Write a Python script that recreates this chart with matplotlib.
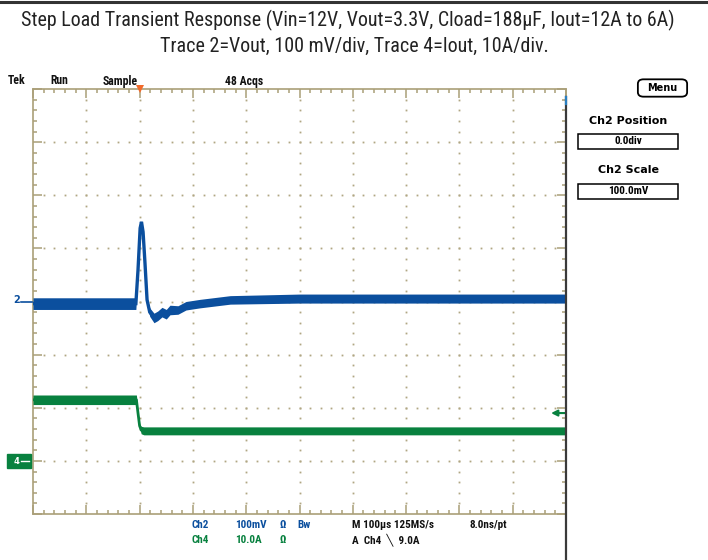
import numpy as np
import matplotlib.pyplot as plt
from matplotlib.patches import Rectangle, FancyBboxPatch
from matplotlib.lines import Line2D

W, H = 708, 560

# Ch2: Vout deviation (mV) vs time (us)
t_vout = [-200, -7, -3, 1, 3.5, 6.5, 10, 14, 19, 27, 34, 42, 50, 57, 72, 87, 113, 170, 300, 800]
vout_mv = [-4, -4, 59, 138, 150, 131, 74, 3, -20, -31, -27, -20, -24, -16, -16, -8, -4, 3, 5.5, 5.5]
vout_noise = [11, 11, 3, 2, 2, 2, 3, 5, 8, 9, 9, 9, 9, 9, 8, 8, 8, 8, 8.5, 8.5]

# Ch4: Iout (A) vs time (us)
t_iout = [-200, -6, -3, 0, 3, 8, 800]
iout_a = [11.5, 11.5, 9.0, 6.6, 5.8, 5.65, 5.65]
iout_noise = [0.9, 0.9, 0.4, 0.4, 0.7, 0.75, 0.75]

mv_per_div = 100
a_per_div = 10
ch4_pos = -3  # divisions
trig_level = 9.0

title1 = "Step Load Transient Response (Vin=12V, Vout=3.3V, Cload=188\u00b5F, Iout=12A to 6A)"
title2 = "Trace 2=Vout, 100 mV/div, Trace 4=Iout, 10A/div."

tan = "#aa9f78"
dot = "#b0a683"
blue = "#0b4f9e"
green = "#08813f"
narrow = ["Roboto Condensed", "Liberation Sans Narrow", "Roboto", "DejaVu Sans"]

fig = plt.figure(figsize=(W / 100, H / 100), dpi=100)
renderer = fig.canvas.get_renderer()


def fx(x):
    return x / W


def fy(y):
    return 1 - y / H


def ftext(x, y, s, width=None, **kw):
    kw.setdefault("va", "center")
    t = fig.text(fx(x), fy(y), s, **kw)
    if width:
        # scale the font so the line spans the same width as on the screen
        w = t.get_window_extent(renderer).width
        t.set_fontsize(t.get_fontsize() * width / w)
    return t


# top bar
fig.add_artist(Line2D([0, 1], [fy(2), fy(2)], color="#333333", lw=2.2))

# titles
ftext(348, 20, title1, width=650, ha="center", fontsize=13, family=narrow, color="#222222")
ftext(354, 46, title2, width=388, ha="center", fontsize=13, family=narrow, color="#222222")

# graticule
x0, x1, y0, y1 = 33, 566, 89, 514
ax = fig.add_axes([fx(x0), fy(y1), (x1 - x0) / W, (y1 - y0) / H])
ax.set_xlim(-200, 800)
ax.set_ylim(-4, 4)
for s in ax.spines.values():
    s.set_color(tan)
    s.set_linewidth(1.2)
ax.set_xticks(np.arange(-200, 801, 100))
ax.set_yticks(np.arange(-4, 5, 1))
ax.set_xticks(np.arange(-200, 801, 20), minor=True)
ax.set_yticks(np.arange(-4, 4.01, 0.2), minor=True)
ax.tick_params(which="both", direction="in", top=True, right=True,
               labelbottom=False, labelleft=False, color=tan, width=1.1)
ax.tick_params(which="major", length=6.5)
ax.tick_params(which="minor", length=2.8)

# graticule dots
gx, gy = [], []
for k in range(-100, 800, 100):
    for v in np.arange(-3.8, 4, 0.2):
        gx.append(k)
        gy.append(v)
for k in range(-3, 4):
    for t in np.arange(-180, 800, 20):
        gx.append(t)
        gy.append(k)
ax.plot(gx, gy, ls="none", marker="s", ms=1.3, mew=0, color=dot, zorder=1)

# traces
tv = np.array(t_vout)
vv = np.array(vout_mv) / mv_per_div
nv = np.array(vout_noise) / mv_per_div
ax.fill_between(tv, vv - nv, vv + nv, color=blue, lw=0, zorder=3)
ax.plot(tv, vv, color=blue, lw=2.4, zorder=3, solid_joinstyle="miter")

ti = np.array(t_iout)
ii = np.array(iout_a) / a_per_div + ch4_pos
ni = np.array(iout_noise) / a_per_div
ax.fill_between(ti, ii - ni, ii + ni, color=green, lw=0, zorder=3)
ax.plot(ti, ii, color=green, lw=2.0, zorder=3)

# trigger level arrow
trig_y = trig_level / a_per_div + ch4_pos
ax.annotate("", xy=(772, trig_y), xytext=(800, trig_y),
            arrowprops=dict(arrowstyle="-|>", color=green, lw=1.5, mutation_scale=9,
                            shrinkA=0, shrinkB=0),
            annotation_clip=False, zorder=4)

# trigger position marker
ax.plot([0], [4], marker="v", ms=6, color="#f26a2a", mew=0, clip_on=False, zorder=5)

# right edge dark line
fig.add_artist(Line2D([fx(566), fx(566)], [fy(97), 0], color="#3a3a3a", lw=1.6))
fig.add_artist(Line2D([fx(566), fx(566)], [fy(97), fy(104)], color="#2a7fc0", lw=1.6))

# channel markers
ftext(17, 300, "2", ha="center", fontsize=7, weight="bold", color=blue)
fig.add_artist(Line2D([fx(21), fx(32)], [fy(301.5), fy(301.5)], color=blue, lw=1.2))
fig.add_artist(Rectangle((fx(7), fy(468)), (31 - 7) / W, 14 / H, color=green,
                         transform=fig.transFigure))
ftext(16, 461, "4", ha="center", fontsize=6, weight="bold", color="white")
fig.add_artist(Line2D([fx(21), fx(29)], [fy(461), fy(461)], color="white", lw=1.0))

# status line
sfont = dict(fontsize=8.5, weight="bold", family=narrow, color="#111111")
ftext(8, 81, "Tek", **sfont)
ftext(50, 81, "Run", **sfont)
ftext(103, 81, "Sample", **sfont)
ftext(225, 81, "48 Acqs", **sfont)

# side menu
fig.add_artist(FancyBboxPatch((fx(640), fy(95)), 45 / W, 14 / H,
                              boxstyle="round,pad=0.003,rounding_size=0.008",
                              transform=fig.transFigure, fc="white", ec="black", lw=1.3))
ftext(662, 88, "Menu", ha="center", fontsize=7, weight="bold")
ftext(628, 121, "Ch2 Position", ha="center", fontsize=8, weight="bold")
fig.add_artist(Rectangle((fx(578), fy(149)), 100 / W, 15 / H, fc="white", ec="black",
                         lw=1.1, transform=fig.transFigure))
ftext(628, 141.5, "0.0div", ha="center", fontsize=8, family=narrow, weight="bold")
ftext(628, 170, "Ch2 Scale", ha="center", fontsize=8, weight="bold")
fig.add_artist(Rectangle((fx(578), fy(199)), 100 / W, 15 / H, fc="white", ec="black",
                         lw=1.1, transform=fig.transFigure))
ftext(628, 191.5, "100.0mV", ha="center", fontsize=8, family=narrow, weight="bold")

# bottom readouts
bfont = dict(fontsize=8, family=narrow, weight="bold")
ftext(192, 525, "Ch2", color=blue, **bfont)
ftext(235, 525, "100mV", color=blue, **bfont)
ftext(280, 525, "\u03a9", color=blue, **bfont)
ftext(297, 525, "Bw", color=blue, **bfont)
ftext(192, 540, "Ch4", color=green, **bfont)
ftext(235, 540, "10.0A", color=green, **bfont)
ftext(280, 540, "\u03a9", color=green, **bfont)
ftext(352, 525, "M 100\u00b5s 125MS/s", color="#111111", **bfont)
ftext(469, 525, "8.0ns/pt", color="#111111", **bfont)
ftext(352, 540, "A  Ch4  \u2572  9.0A", color="#111111", **bfont)

fig.savefig("out.png", dpi=100)
